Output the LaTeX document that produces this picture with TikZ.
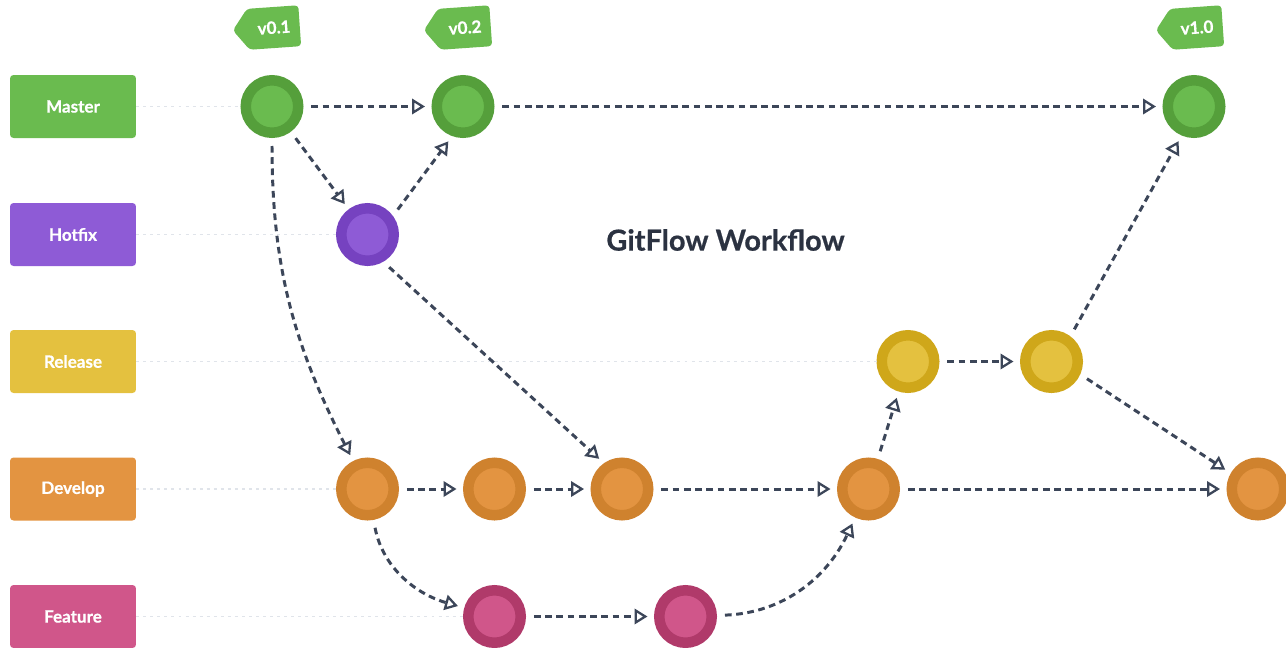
\documentclass[tikz,border=0pt]{standalone}
\usepackage{fontspec}
\setmainfont{Lato}[BoldFeatures={FakeBold=0.6}]
\usetikzlibrary{arrows.meta,shapes.symbols}

\definecolor{masterfill}{HTML}{6ABB4F}
\definecolor{masterring}{HTML}{559F3B}
\definecolor{hotfixfill}{HTML}{8E5BD6}
\definecolor{hotfixring}{HTML}{7642C0}
\definecolor{releasefill}{HTML}{E4C13F}
\definecolor{releasering}{HTML}{CFA71A}
\definecolor{developfill}{HTML}{E39441}
\definecolor{developring}{HTML}{CF822E}
\definecolor{featurefill}{HTML}{D0568A}
\definecolor{featurering}{HTML}{B03A6A}
\definecolor{arrowc}{HTML}{3C4659}
\definecolor{guidec}{HTML}{E0E4EA}
\definecolor{titlec}{HTML}{2B3241}

\begin{document}
\begin{tikzpicture}[x=0.02cm,y=0.02cm,
    branch/.style={rectangle, rounded corners=2pt, fill=#1fill, text=white,
      minimum width=2.52cm, minimum height=1.26cm, inner sep=0pt,
      font=\bfseries\fontsize{9.7}{11}\selectfont},
    commit/.style={circle, fill=#1fill, draw=#1ring, line width=0.21cm,
      minimum size=1.05cm, inner sep=0pt, outer sep=0.105cm},
    tag/.style={signal, signal to=west, signal pointer angle=106,
      fill=masterfill, text=white, rounded corners=2pt, inner sep=0pt,
      minimum width=1.34cm, minimum height=0.82cm, rotate=4,
      font=\bfseries\fontsize{9.7}{11}\selectfont},
    guide/.style={draw=guidec, line width=1.1pt, dash pattern=on 1.7pt off 2.3pt},
    flow/.style={draw=arrowc, line width=1.7pt, dash pattern=on 3.8pt off 2.6pt,
      -{Triangle[open,length=7.4pt,width=8.8pt,line width=1.3pt]},
      shorten <=0.16cm, shorten >=0.13cm}]
    \useasboundingbox (0,0) rectangle (1286,-647);
    % branch labels on the left
    \foreach \name/\col/\y in {Master/master/-106.5, Hotfix/hotfix/-234.5,
        Release/release/-361.5, Develop/develop/-489, Feature/feature/-616.5}{
      \node[branch=\col] (\name) at (73,\y) {\name};
    }
    % commits
    \node[commit=master] (M1) at (272,-106.5) {};
    \node[commit=master] (M2) at (463,-106.5) {};
    \node[commit=master] (M3) at (1194,-106.5) {};
    \node[commit=hotfix] (H1) at (367.5,-234.5) {};
    \node[commit=release] (R1) at (908,-361.5) {};
    \node[commit=release] (R2) at (1051.5,-361.5) {};
    \foreach \n/\x in {1/367.5,2/494.5,3/622,4/868.5,5/1258}{
      \node[commit=develop] (D\n) at (\x,-489) {};
    }
    \node[commit=feature] (F1) at (494.5,-616.5) {};
    \node[commit=feature] (F2) at (685.5,-616.5) {};
    % version tags
    \node[tag] (T1) at (274,-27.5) {v0.1};
    \node[tag] (T2) at (465,-27.5) {v0.2};
    \node[tag] (T3) at (1197,-27.5) {v1.0};
    \node[text=titlec, font=\bfseries\fontsize{16.5}{19}\selectfont] (Title) at (725.5,-240) {GitFlow Workflow};
    % dotted guides from the labels
    \draw[guide] (Master.east) -- (M1);
    \draw[guide] (Hotfix.east) -- (H1);
    \draw[guide] (Release.east) -- (R1);
    \draw[guide] (Develop.east) -- (D1);
    \draw[guide] (Feature.east) -- (F1);
    % merges and branches
    \draw[flow] (M1) -- (M2);
    \draw[flow] (M2) -- (M3);
    \draw[flow] (M1) -- (H1);
    \draw[flow] (H1.36) -- (M2.250);
    \draw[flow] (H1.-60) -- (D3.125);
    \draw[flow] (M1) to[out=-90,in=117] (D1);
    \draw[flow] (D1) -- (D2);
    \draw[flow] (D2) -- (D3);
    \draw[flow] (D3) -- (D4);
    \draw[flow] (D4) -- (D5);
    \draw[flow] (D1) to[out=-79,in=164] (F1);
    \draw[flow] (F1) -- (F2);
    \draw[flow] (F2) to[out=2,in=245] (D4);
    \draw[flow] (D4) -- (R1);
    \draw[flow] (R1) -- (R2);
    \draw[flow] (R2.53) -- (M3.247);
    \draw[flow] (R2.-24) -- (D5.150);
\end{tikzpicture}
\end{document}
